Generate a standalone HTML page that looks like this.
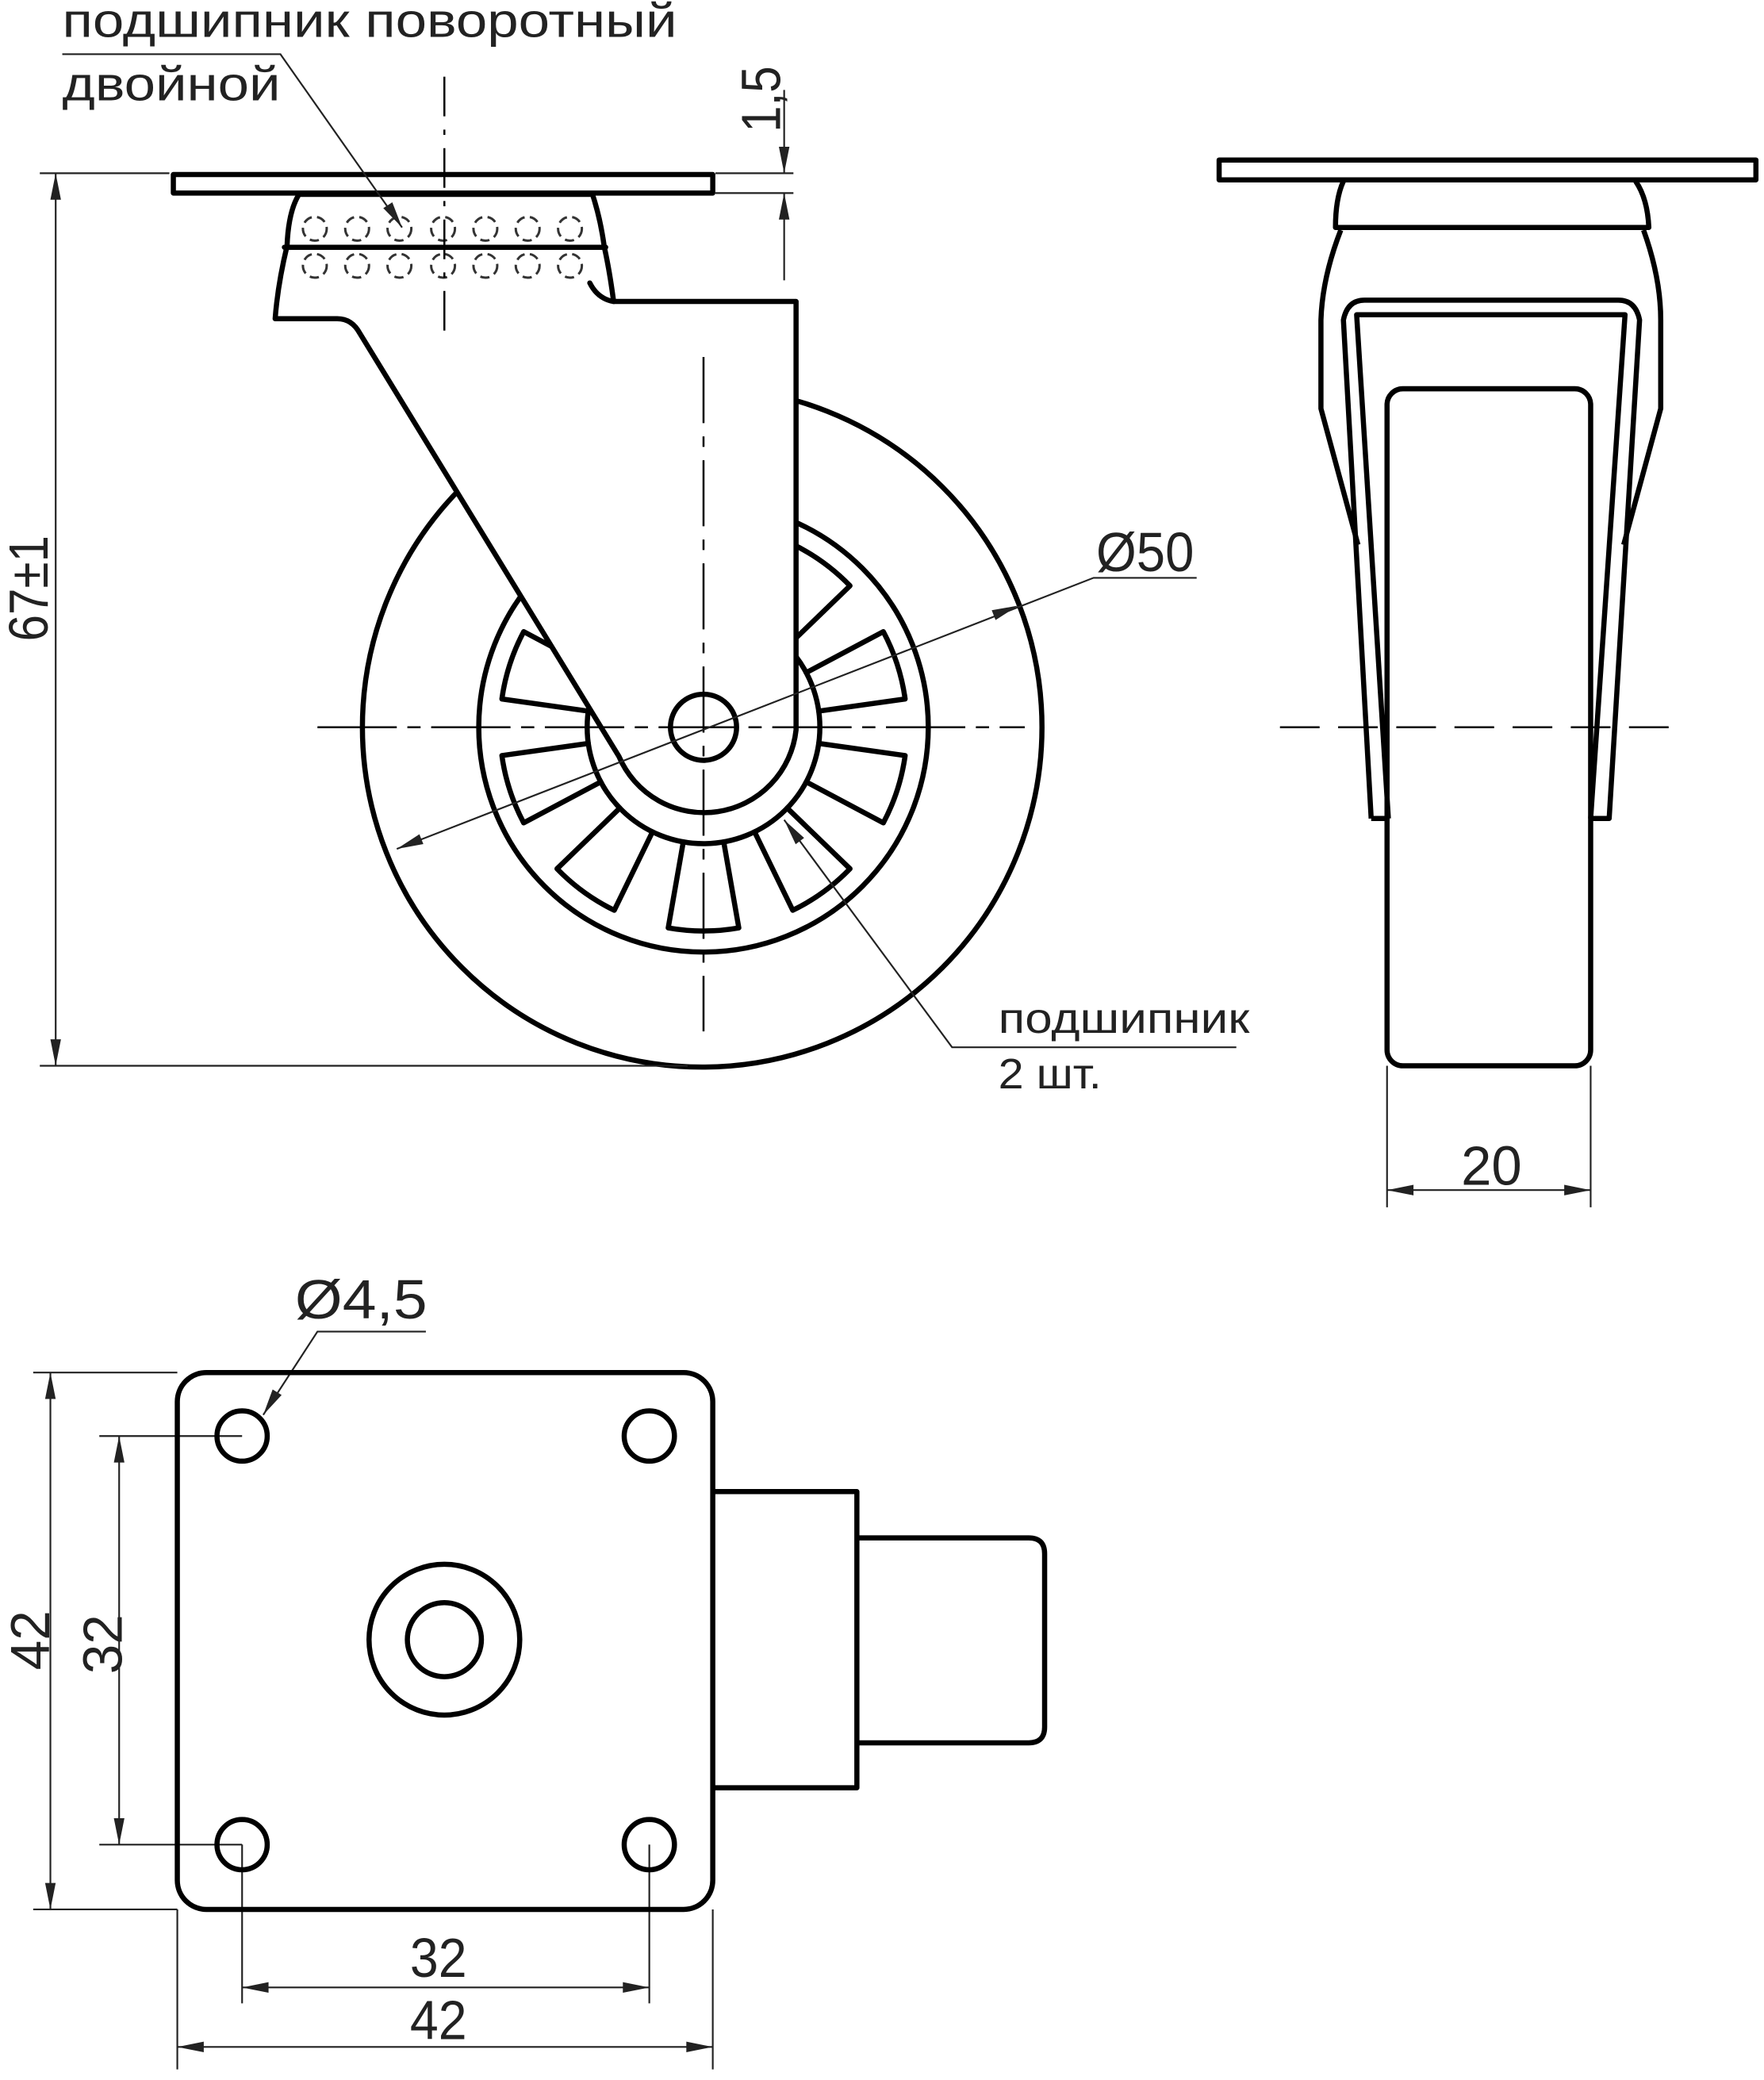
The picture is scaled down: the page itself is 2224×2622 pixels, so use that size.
<!DOCTYPE html>
<html><head><meta charset="utf-8"><style>
html,body{margin:0;padding:0;background:#fff}
svg{display:block}
text{font-family:"Liberation Sans","DejaVu Sans",sans-serif;fill:#222}
</style></head><body>
<svg width="2224" height="2622" viewBox="0 0 1334 1573" xmlns="http://www.w3.org/2000/svg">
<g fill="none" stroke="#000" stroke-width="3.9" stroke-linejoin="round" stroke-linecap="round">
<circle cx="531" cy="550" r="257"/>
<circle cx="532" cy="550" r="170"/>
<circle cx="532" cy="550" r="88"/>
<path d="M619.1,562.2 L684.5,571.4 A154 154 0 0 1 668,622.3 L609.7,591.3"/>
<path d="M595.3,611.1 L642.8,657 A154 154 0 0 1 599.5,688.4 L570.6,629.1"/>
<path d="M547.3,636.7 L558.7,701.7 A154 154 0 0 1 505.3,701.7 L516.7,636.7"/>
<path d="M493.4,629.1 L464.5,688.4 A154 154 0 0 1 421.2,657 L468.7,611.1"/>
<path d="M454.3,591.3 L396,622.3 A154 154 0 0 1 379.5,571.4 L444.9,562.2"/>
<path d="M444.9,537.8 L379.5,528.6 A154 154 0 0 1 396,477.7 L454.3,508.7"/>
<path d="M468.7,488.9 L421.2,443 A154 154 0 0 1 464.5,411.6 L493.4,470.9"/>
<path d="M516.7,463.3 L505.3,398.3 A154 154 0 0 1 558.7,398.3 L547.3,463.3"/>
<path d="M570.6,470.9 L599.5,411.6 A154 154 0 0 1 642.8,443 L595.3,488.9"/>
<path d="M609.7,508.7 L668,477.7 A154 154 0 0 1 684.5,528.6 L619.1,537.8"/>
<path fill="#fff" d="M226,147 Q218,160 217,186 Q210,215 208,241 L255,241 Q266,241 272,252 L468,572 A70 70 0 0 0 602,552 L602,228 L464,228 Q461,205 457,187 Q454,165 448,147 Z"/>
<path d="M446,214 Q452,226 464,228"/>
<path d="M215,187 L458,187"/>
<circle cx="532" cy="550" r="25" fill="#fff"/>
<rect x="131" y="132" width="408" height="14" fill="#fff"/>
</g>
<g fill="none" stroke="#333" stroke-width="1.8" stroke-dasharray="7 4">
<circle cx="238" cy="173" r="9"/><circle cx="270" cy="173" r="9"/><circle cx="302" cy="173" r="9"/><circle cx="335" cy="173" r="9"/><circle cx="367" cy="173" r="9"/><circle cx="399" cy="173" r="9"/><circle cx="431" cy="173" r="9"/>
<circle cx="238" cy="201" r="9"/><circle cx="270" cy="201" r="9"/><circle cx="302" cy="201" r="9"/><circle cx="335" cy="201" r="9"/><circle cx="367" cy="201" r="9"/><circle cx="399" cy="201" r="9"/><circle cx="431" cy="201" r="9"/>
</g>
<g stroke="#000" stroke-width="1.5" fill="none">
<path d="M240,550 H775" stroke-dasharray="60 8 10 8"/>
<path d="M532,270 V780" stroke-dasharray="50 10 8 10"/>
<path d="M336,58 V252" stroke-dasharray="30 10 4 10"/>
<path d="M968,550 H1272" stroke-dasharray="30 14"/>
</g>
<g stroke="#222" stroke-width="1.3" fill="none">
<path d="M30,131 H128 M30,806 H520 M42,131 V806"/>
<path d="M541,131 H600 M541,146 H600 M593,68 V131 M593,146 V212"/>
<path d="M300,642 L827,437 H905"/>
<path d="M593,620 L720,792 H935"/>
<path d="M47,41 H212 L304,172"/>
<path d="M1049,806 V913 M1203,806 V913 M1049,900 H1203"/>
<path d="M199,1070 L240,1007 H322"/>
<path d="M25,1038 H134 M25,1444 H134 M38,1038 V1444"/>
<path d="M75,1086 H183 M75,1395 H183 M90,1086 V1395"/>
<path d="M183,1395 V1515 M491,1395 V1515 M183,1503 H491"/>
<path d="M134,1444 V1565 M539,1444 V1565 M134,1548 H539"/>
</g>
<g fill="#222">
<polygon points="42,131 38,151 46,151"/><polygon points="42,806 38,786 46,786"/>
<polygon points="593,131 589,111 597,111"/><polygon points="593,146 589,166 597,166"/>
<polygon points="770,458 752.9,468.9 750,461.5"/><polygon points="300,642 320.1,638.3 317.1,630.9"/>
<polygon points="593,620 608.1,633.7 601.7,638.5"/>
<polygon points="304,172 296.6,153 289.8,157.4"/>
<polygon points="1049,900 1069,896 1069,904"/><polygon points="1203,900 1183,896 1183,904"/>
<polygon points="199,1070 212.9,1055 206.1,1050.8"/>
<polygon points="38,1038 34,1058 42,1058"/><polygon points="38,1444 34,1424 42,1424"/>
<polygon points="90,1086 86,1106 94,1106"/><polygon points="90,1395 86,1375 94,1375"/>
<polygon points="183,1503 203,1499 203,1507"/><polygon points="491,1503 471,1499 471,1507"/>
<polygon points="134,1548 154,1544 154,1552"/><polygon points="539,1548 519,1544 519,1552"/>
</g>
<g fill="none" stroke="#000" stroke-width="3.9" stroke-linejoin="round">
<rect x="922" y="121" width="406" height="15"/>
<path d="M1016,137 Q1010,150 1010,172 L1247,172 Q1246,150 1237,137"/>
<path d="M1014,174 Q1000,210 999,242 L999,309 L1027,412"/>
<path d="M1243,174 Q1256,210 1256,242 L1256,309 L1228,412"/>
<path d="M1037,619 L1016,242 Q1019,227 1032,227 L1224,227 Q1237,227 1240,242 L1217,619 L1203,619"/>
<path d="M1050,619 L1026,238 L1229,238 L1203,619"/>
<path d="M1037,619 H1050"/>
<rect x="1049" y="294" width="154" height="512" rx="12"/>
</g>
<g fill="none" stroke="#000" stroke-width="3.9" stroke-linejoin="round">
<rect x="134" y="1038" width="405" height="406" rx="22"/>
<circle cx="183" cy="1086" r="19"/><circle cx="491" cy="1086" r="19"/>
<circle cx="183" cy="1395" r="19"/><circle cx="491" cy="1395" r="19"/>
<circle cx="336" cy="1240" r="57"/><circle cx="336" cy="1240" r="28"/>
<path d="M539,1128 H648 V1352 H539"/>
<path d="M648,1163 H778 Q790,1163 790,1175 V1306 Q790,1318 778,1318 H648"/>
</g>
<text x="47" y="28" font-size="36" textLength="465" lengthAdjust="spacingAndGlyphs">подшипник поворотный</text>
<text x="47" y="76" font-size="36" textLength="165" lengthAdjust="spacingAndGlyphs">двойной</text>
<text x="755" y="781" font-size="32" textLength="190" lengthAdjust="spacingAndGlyphs">подшипник</text>
<text x="755" y="823" font-size="32" textLength="78" lengthAdjust="spacingAndGlyphs">2 шт.</text>
<text x="829" y="432" font-size="42" textLength="74" lengthAdjust="spacingAndGlyphs">Ø50</text>
<text x="1105" y="896" font-size="42" textLength="46" lengthAdjust="spacingAndGlyphs">20</text>
<text x="223" y="997" font-size="42" textLength="100" lengthAdjust="spacingAndGlyphs">Ø4,5</text>
<text x="310" y="1495" font-size="42" textLength="43" lengthAdjust="spacingAndGlyphs">32</text>
<text x="310" y="1542" font-size="42" textLength="43" lengthAdjust="spacingAndGlyphs">42</text>
<text transform="translate(36,485) rotate(-90)" font-size="42" textLength="80" lengthAdjust="spacingAndGlyphs">67±1</text>
<text transform="translate(590,100) rotate(-90)" font-size="42" textLength="50" lengthAdjust="spacingAndGlyphs">1,5</text>
<text transform="translate(37,1263) rotate(-90)" font-size="42" textLength="45" lengthAdjust="spacingAndGlyphs">42</text>
<text transform="translate(92,1266) rotate(-90)" font-size="42" textLength="45" lengthAdjust="spacingAndGlyphs">32</text>
</svg>
</body></html>
